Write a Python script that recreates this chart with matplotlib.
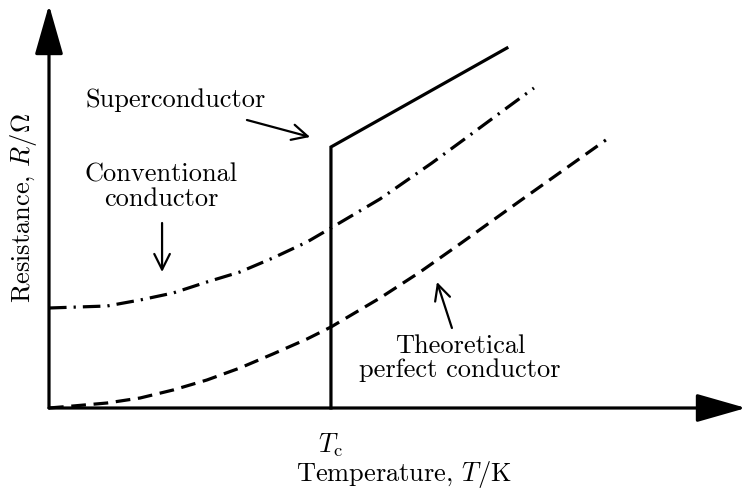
import numpy as np
import matplotlib
matplotlib.use("Agg")
from matplotlib import pyplot as plt

plt.rcParams['font.family'] = ['cmr10', 'DejaVu Serif']
plt.rcParams['mathtext.fontset'] = 'cm'
plt.rcParams['axes.unicode_minus'] = False

# Temperature in units of Tc, resistance in arbitrary units
t_conv = [0.0, 0.206, 0.323, 0.440, 0.560, 0.677, 0.794, 0.915, 1.0, 1.174, 1.358, 1.479, 1.599, 1.720]
r_conv = [1.00, 1.02, 1.08, 1.15, 1.26, 1.36, 1.50, 1.66, 1.80, 2.09, 2.45, 2.70, 2.95, 3.20]

t_perf = [0.0, 0.085, 0.206, 0.323, 0.440, 0.560, 0.677, 0.794, 0.915, 1.0, 1.174, 1.316, 1.457, 1.670, 1.975]
r_perf = [0.0, 0.02, 0.05, 0.10, 0.18, 0.28, 0.40, 0.54, 0.69, 0.81, 1.10, 1.36, 1.64, 2.07, 2.68]

t_super = [1.0, 1.0, 1.624]
r_super = [0.0, 2.61, 3.60]

t_c = 1.0
fs = 19
lw = 2.3

W, H = 747, 491
fig = plt.figure(figsize=(W / 100, H / 100), dpi=100)
ax = fig.add_axes([49 / W, 1 - 408 / H, 697 / W, 403 / H])
ax.set_xlim(0, 2.472)
ax.set_ylim(0, 4.03)
for s in ax.spines.values():
    s.set_visible(False)

ax.plot(t_super, r_super, color='black', lw=lw, solid_joinstyle='miter', clip_on=False)
ax.plot(t_conv, r_conv, color='black', lw=lw, linestyle=(0, (5.5, 2.2, 0.7, 2.2)), clip_on=False)
ax.plot(t_perf, r_perf, color='black', lw=lw, linestyle=(0, (4.6, 2.4)), clip_on=False)

# axis arrows
head = dict(arrowstyle='-|>,head_length=1.4,head_width=0.4', color='black',
            lw=lw, shrinkA=0, shrinkB=0, mutation_scale=22)
ax.annotate('', xy=(0, 1), xytext=(0, 0), xycoords='axes fraction', arrowprops=head)
ax.annotate('', xy=(1, 0), xytext=(0, 0), xycoords='axes fraction', arrowprops=head)

ax.set_xticks([t_c])
ax.set_xticklabels([r'$T_\mathrm{c}$'], fontsize=fs)
ax.set_yticks([])
ax.tick_params(axis='x', length=0, pad=17)

fig.text(404 / W, 1 - 475 / H, r'Temperature, $T/\mathrm{K}$', fontsize=fs, ha='center', va='center')
fig.text(24 / W, 1 - 208 / H, r'Resistance, $R/\Omega$', fontsize=fs, ha='center', va='center', rotation=90)

small = dict(arrowstyle='->,head_length=0.7,head_width=0.35', color='black', lw=1.6,
             shrinkA=0, shrinkB=0, mutation_scale=16)
ax.annotate('', xy=(0.926, 2.71), xytext=(0.702, 2.88), arrowprops=small)
ax.text(0.449, 3.08, 'Superconductor', fontsize=fs, ha='center', va='center')

ax.annotate('', xy=(0.401, 1.36), xytext=(0.401, 1.85), arrowprops=small)
ax.text(0.397, 2.21, 'Conventional\nconductor', fontsize=fs, ha='center', va='center',
        linespacing=1.05)

ax.annotate('', xy=(1.376, 1.26), xytext=(1.429, 0.80), arrowprops=small)
ax.text(1.457, 0.50, 'Theoretical\nperfect conductor', fontsize=fs, ha='center', va='center',
        linespacing=1.0)

fig.savefig('out.png', dpi=100)
